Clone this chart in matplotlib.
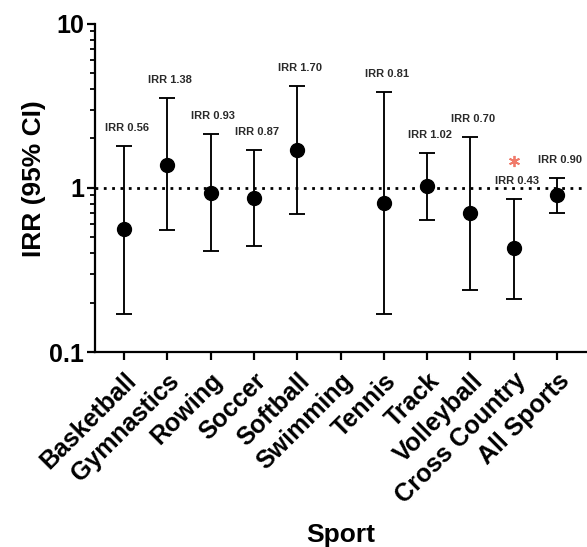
import numpy as np
import matplotlib
matplotlib.use("Agg")
import matplotlib.pyplot as plt
from matplotlib.ticker import LogLocator, NullFormatter, FixedLocator
from matplotlib.transforms import ScaledTranslation

plt.rcParams['font.family'] = ['Liberation Sans', 'DejaVu Sans']
plt.rcParams['font.weight'] = 'bold'

sports = ["Basketball", "Gymnastics", "Rowing", "Soccer", "Softball", "Swimming",
          "Tennis", "Track", "Volleyball", "Cross Country", "All Sports"]
irr = [0.56, 1.38, 0.93, 0.87, 1.70, np.nan, 0.81, 1.02, 0.70, 0.43, 0.90]
ci_low = [0.17, 0.55, 0.41, 0.44, 0.69, np.nan, 0.17, 0.64, 0.24, 0.21, 0.70]
ci_high = [1.80, 3.52, 2.12, 1.71, 4.19, np.nan, 3.83, 1.63, 2.05, 0.85, 1.15]
labels = ["IRR 0.56", "IRR 1.38", "IRR 0.93", "IRR 0.87", "IRR 1.70", "",
          "IRR 0.81", "IRR 1.02", "IRR 0.70", "IRR 0.43", "IRR 0.90"]
significant = ["Cross Country"]

W, H = 587, 547
fig = plt.figure(figsize=(W / 100, H / 100), dpi=100)
left, right, bottom, top = 95, 587, 352, 23.7
ax = fig.add_axes([left / W, 1 - bottom / H, (right - left) / W, (bottom - top) / H])

x = np.arange(len(sports))
irr_a = np.array(irr, dtype=float)
lo = np.array(ci_low, dtype=float)
hi = np.array(ci_high, dtype=float)

ax.axhline(1, color='black', lw=2.0, linestyle=(0, (1, 2)), dash_capstyle='butt', zorder=1)

ax.errorbar(x, irr_a, yerr=[irr_a - lo, hi - irr_a], fmt='o', color='black',
            ecolor='black', elinewidth=1.35, capsize=5.5, capthick=1.35,
            markersize=10, zorder=3)

for xi, lab, h in zip(x, labels, hi):
    if lab and not np.isnan(h):
        ax.annotate(lab, (xi, h), xytext=(2, 13), textcoords='offset points',
                    ha='center', va='center', fontsize=8, fontweight='bold',
                    color='#2a2a2a')

star_tr = ax.transData + ScaledTranslation(0, 28 / 72, fig.dpi_scale_trans)
for xi, name, h in zip(x, sports, hi):
    if name in significant:
        ax.plot([xi], [h], marker=(6, 2, 0), markersize=8, mew=1.3,
                color='#f07a6a', transform=star_tr, clip_on=False, zorder=4)

ax.set_yscale('log')
ax.set_ylim(0.1, 10)
ax.set_xlim(-0.67, 10.69)
ax.yaxis.set_major_locator(FixedLocator([0.1, 1, 10]))
ax.set_yticklabels(['0.1', '1', '10'])
ax.yaxis.set_minor_locator(LogLocator(base=10, subs=np.arange(2, 10)))
ax.yaxis.set_minor_formatter(NullFormatter())

ax.set_xticks(x)
ax.set_xticklabels(sports, rotation=45, ha='right', va='top', rotation_mode='anchor')
shift = ScaledTranslation(-5 / 72, 0, fig.dpi_scale_trans)
for t in ax.get_xticklabels():
    t.set_transform(t.get_transform() + shift)

for s in ['top', 'right']:
    ax.spines[s].set_visible(False)
for s in ['left', 'bottom']:
    ax.spines[s].set_linewidth(1.6)

ax.tick_params(axis='y', which='major', length=6, width=1.6, labelsize=18, pad=2)
ax.tick_params(axis='y', which='minor', length=3.5, width=1.3)
ax.tick_params(axis='x', which='major', length=6, width=1.6, labelsize=18, pad=6)
for t in ax.get_xticklabels() + ax.get_yticklabels():
    t.set_fontweight('bold')

ax.set_ylabel('IRR (95% CI)', fontsize=19, fontweight='bold')
ax.yaxis.set_label_coords(-0.100, 0.527)
ax.set_xlabel('Sport', fontsize=19, fontweight='bold')
ax.xaxis.set_label_coords(0.5, -0.521)

fig.savefig('out.png', dpi=100)
